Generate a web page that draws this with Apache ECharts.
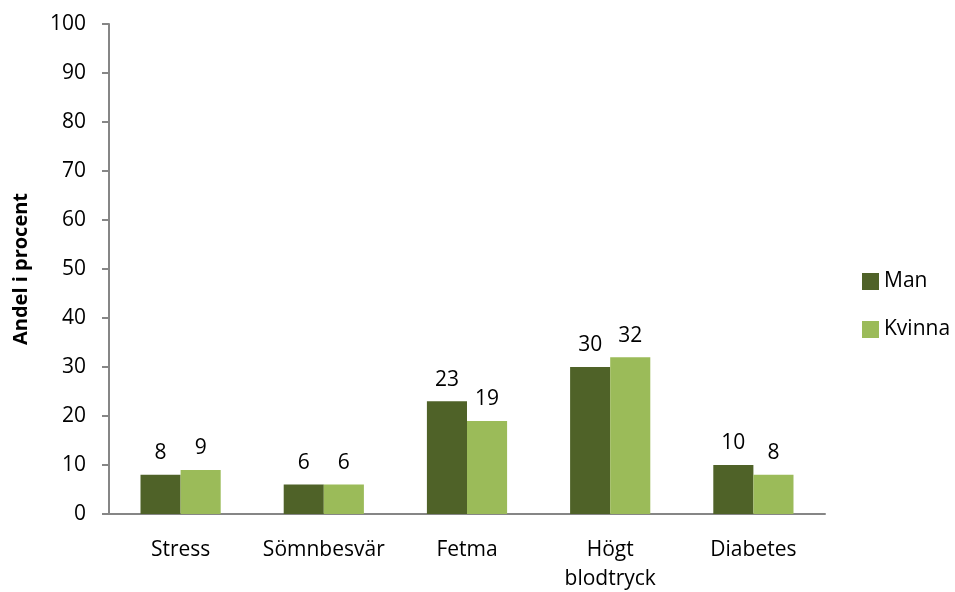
<!DOCTYPE html>
<html><head><meta charset="utf-8">
<script src="https://cdn.jsdelivr.net/npm/echarts@6/dist/echarts.min.js"></script>
<style>html,body{margin:0;padding:0;background:#fff}#c{width:955px;height:592px}</style>
</head><body><div id="c"></div>
<script>
const categories = ['Stress', 'Sömnbesvär', 'Fetma', 'Högt\nblodtryck', 'Diabetes'];
const manValues = [8, 6, 23, 30, 10];
const kvinnaValues = [9, 6, 19, 32, 8];
const seriesNames = ['Man', 'Kvinna'];
const yTitle = 'Andel i procent';

const font = 'Open Sans';
const fs = 21;
const chart = echarts.init(document.getElementById('c'), null, {renderer: 'canvas'});
const labelCfg = {show: true, position: 'top', distance: 11, color: '#000', fontSize: fs, fontFamily: font};
chart.setOption({
  animation: false,
  grid: {left: 109, right: 130, top: 24, bottom: 78, containLabel: false, outerBoundsMode: 'none'},
  legend: {
    orient: 'vertical', left: 857, top: 266, itemGap: 27,
    itemWidth: 17, itemHeight: 17, icon: 'rect',
    textStyle: {fontSize: fs, fontFamily: font, color: '#000'},
    data: seriesNames
  },
  xAxis: {
    type: 'category', data: categories,
    axisLine: {lineStyle: {color: '#868686', width: 2}},
    axisTick: {show: false},
    axisLabel: {color: '#000', fontSize: fs, fontFamily: font, margin: 22, lineHeight: 29, interval: 0, hideOverlap: false}
  },
  yAxis: {
    type: 'value', min: 0, max: 100, interval: 10,
    name: yTitle, nameLocation: 'middle', nameGap: 78, nameRotate: 90,
    nameTextStyle: {fontSize: 20, fontWeight: 'bold', fontFamily: font, color: '#000'},
    axisLine: {show: true, lineStyle: {color: '#868686', width: 2}},
    axisTick: {show: true, length: 7, lineStyle: {color: '#868686', width: 2}},
    splitLine: {show: false},
    axisLabel: {color: '#000', fontSize: fs, fontFamily: font, margin: 23}
  },
  series: [
    {name: seriesNames[0], type: 'bar', data: manValues, barGap: '0%', barCategoryGap: '44%',
     itemStyle: {color: '#4F6228'}, label: labelCfg},
    {name: seriesNames[1], type: 'bar', data: kvinnaValues,
     itemStyle: {color: '#9BBB59'}, label: labelCfg}
  ]
});
</script></body></html>
